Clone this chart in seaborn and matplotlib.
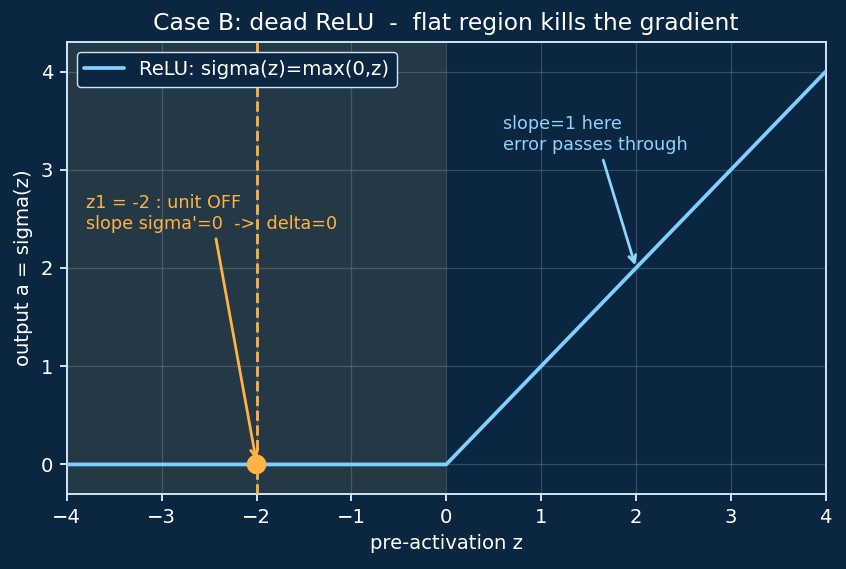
import matplotlib
matplotlib.use("Agg")
import matplotlib.pyplot as plt
import seaborn as sns
import pandas as pd

# data
z_vals = [-4.0, 0.0, 4.0]
a_vals = [0.0, 0.0, 4.0]
dead_z = [-2.0]
dead_a = [0.0]
xticks = [-4, -3, -2, -1, 0, 1, 2, 3, 4]
yticks = [0, 1, 2, 3, 4]

BG = "#0b2640"
BLUE = "#7fcfff"
ORANGE = "#ffb347"
LIGHT = "#cfe6f7"

sns.set_theme(style="dark")
plt.rcParams["font.family"] = ["DejaVu Sans"]

fig, ax = plt.subplots(figsize=(8.46, 5.69), dpi=100)
fig.patch.set_facecolor(BG)
ax.set_facecolor(BG)
fig.subplots_adjust(left=0.079, right=0.976, top=0.926, bottom=0.132)

ax.axvspan(-4, 0, color="#3a4a4a", alpha=0.55, zorder=0, lw=0)

df = pd.DataFrame({"z": z_vals, "a": a_vals})
sns.lineplot(data=df, x="z", y="a", ax=ax, color=BLUE, lw=2.7,
             label="ReLU: sigma(z)=max(0,z)", zorder=3)

ax.axvline(dead_z[0], color=ORANGE, ls="--", lw=2.0, zorder=4)
sns.scatterplot(x=dead_z, y=dead_a, ax=ax, color=ORANGE, s=200,
                edgecolor="none", zorder=5)

ax.annotate("z1 = -2 : unit OFF\nslope sigma'=0  ->  delta=0",
            xy=(-2, 0.02), xytext=(-3.8, 2.4), color=ORANGE, fontsize=12.7,
            arrowprops=dict(arrowstyle="->", color=ORANGE, lw=2.0))
ax.annotate("slope=1 here\nerror passes through",
            xy=(2, 2), xytext=(0.6, 3.2), color="#8fd3ff", fontsize=12.7,
            arrowprops=dict(arrowstyle="->", color="#8fd3ff", lw=2.0))

ax.set_xlim(-4, 4)
ax.set_ylim(-0.3, 4.3)
ax.set_xticks(xticks)
ax.set_yticks(yticks)
ax.grid(True, color="#9ab0c0", alpha=0.28, lw=0.9)
ax.set_axisbelow(True)

ax.set_title("Case B: dead ReLU  -  flat region kills the gradient",
             color="white", fontsize=16.9, pad=8.5)
ax.set_xlabel("pre-activation z", color="white", fontsize=14.1, labelpad=5.6)
ax.set_ylabel("output a = sigma(z)", color="white", fontsize=14.1, labelpad=5.6)
ax.tick_params(colors="white", labelsize=14.1, length=4.9, width=1.4, pad=4.9,
               bottom=True, left=True, color=LIGHT)
for s in ax.spines.values():
    s.set_color(LIGHT)
    s.set_linewidth(1.4)
    s.set_visible(True)

leg = ax.legend(loc="upper left", facecolor=BG, edgecolor=LIGHT,
                fontsize=14.1, framealpha=1)
for t in leg.get_texts():
    t.set_color("white")

fig.savefig("out.png", dpi=100, facecolor=BG)
